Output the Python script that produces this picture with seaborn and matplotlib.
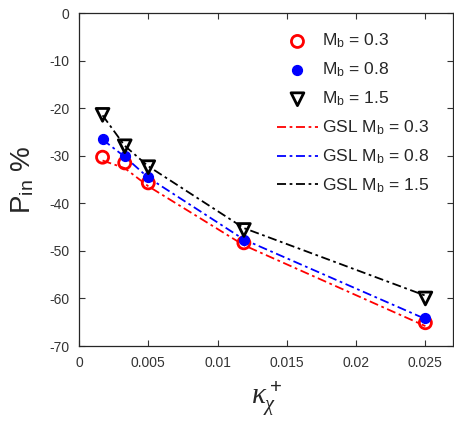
import numpy as np
import pandas as pd
import seaborn as sns
import matplotlib
matplotlib.use("Agg")
import matplotlib.pyplot as plt

sns.set_style("ticks")
plt.rcParams['font.family'] = ['Liberation Sans', 'DejaVu Sans']
plt.rcParams['mathtext.fontset'] = 'custom'
plt.rcParams['mathtext.rm'] = 'Liberation Sans'
plt.rcParams['mathtext.it'] = 'Liberation Serif:italic'
plt.rcParams['axes.unicode_minus'] = False

# kappa_chi^+ values
kappa = [0.0017, 0.0033, 0.0050, 0.0119, 0.0250]

# DNS points for each bulk Mach number
p_mb03 = [-30.3, -31.5, -35.7, -48.3, -65.1]
p_mb08 = [-26.5, -30.0, -34.5, -47.7, -64.1]
p_mb15 = [-21.4, -28.0, -32.4, -45.6, -60.0]

# GSL model curves
gsl_mb03 = [-31.0, -32.6, -36.4, -48.8, -65.8]
gsl_mb08 = [-26.6, -30.2, -34.6, -47.6, -64.3]
gsl_mb15 = [-21.5, -27.9, -32.2, -45.2, -59.4]

yticks = [0, -10, -20, -30, -40, -50, -60, -70]
xticks = [0, 0.005, 0.01, 0.015, 0.02, 0.025]
xtick_labels = ["0", "0.005", "0.01", "0.015", "0.02", "0.025"]

pts = pd.DataFrame({
    "kappa": kappa * 3,
    "P": p_mb03 + p_mb08 + p_mb15,
    "case": ["0.3"] * 5 + ["0.8"] * 5 + ["1.5"] * 5,
})
gsl = pd.DataFrame({
    "kappa": kappa * 3,
    "P": gsl_mb03 + gsl_mb08 + gsl_mb15,
    "case": ["0.3"] * 5 + ["0.8"] * 5 + ["1.5"] * 5,
})

colors = {"0.3": "#ff0000", "0.8": "#0000ff", "1.5": "#000000"}
dashdot = (0, (5, 2, 1.5, 2))

fig = plt.figure(figsize=(4.54, 4.21), dpi=100)
ax = fig.add_axes([0.174, 0.178, 0.824, 0.791])

for c in ["0.3", "0.8", "1.5"]:
    d = gsl[gsl["case"] == c]
    sns.lineplot(data=d, x="kappa", y="P", ax=ax, color=colors[c],
                 linewidth=1.3, linestyle=dashdot, sort=False,
                 label=rf"GSL M$_\mathrm{{b}}$ = {c}")

d = pts[pts["case"] == "0.3"]
sns.scatterplot(data=d, x="kappa", y="P", ax=ax, marker="o", s=75,
                facecolor="none", edgecolor=colors["0.3"], linewidth=2,
                label=r"M$_\mathrm{b}$ = 0.3", zorder=3)
d = pts[pts["case"] == "0.8"]
sns.scatterplot(data=d, x="kappa", y="P", ax=ax, marker="o", s=50,
                color=colors["0.8"], edgecolor=colors["0.8"], linewidth=1,
                label=r"M$_\mathrm{b}$ = 0.8", zorder=4)
d = pts[pts["case"] == "1.5"]
sns.scatterplot(data=d, x="kappa", y="P", ax=ax, marker="v", s=85,
                facecolor="none", edgecolor=colors["1.5"], linewidth=2,
                label=r"M$_\mathrm{b}$ = 1.5", zorder=5)

handles, labels = ax.get_legend_handles_labels()
order = [3, 4, 5, 0, 1, 2]
ax.legend([handles[i] for i in order], [labels[i] for i in order],
          frameon=False, loc="upper left", bbox_to_anchor=(0.529, 0.943),
          borderpad=0, borderaxespad=0,
          fontsize=12.6, labelspacing=0.6, handlelength=2.35,
          handletextpad=0.25)

ax.set_xlim(0, 0.027)
ax.set_ylim(-70, 0)
ax.set_xticks(xticks)
ax.set_xticklabels(xtick_labels)
ax.set_yticks(yticks)
ax.tick_params(direction="in", top=True, right=True, labelsize=10,
               colors="#333333", length=4.5, width=0.8, pad=7)
for s in ax.spines.values():
    s.set_linewidth(0.9)
    s.set_color("#262626")

ax.set_xlabel(r"$\kappa_\chi^+$", fontsize=21, labelpad=7)
ax.set_ylabel(r"P$_\mathrm{in}$ %", fontsize=20)
ax.yaxis.set_label_coords(-0.115, 0.50)

fig.savefig("out.png", dpi=100)
